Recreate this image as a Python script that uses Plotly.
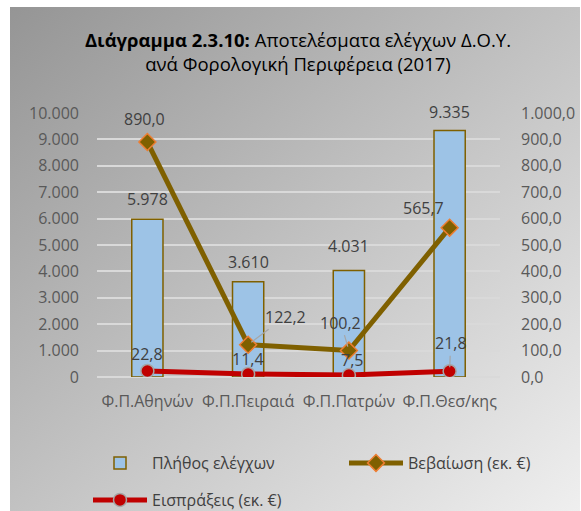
import base64
import plotly.graph_objects as go

categories = ["Φ.Π.Αθηνών", "Φ.Π.Πειραιά", "Φ.Π.Πατρών", "Φ.Π.Θεσ/κης"]
plithos = [5978, 3610, 4031, 9335]          # Πλήθος ελέγχων (left axis)
vevaiosi = [890.0, 122.2, 100.2, 565.7]     # Βεβαίωση (εκ. €) (right axis)
eispraxeis = [22.8, 11.4, 7.5, 21.8]        # Εισπράξεις (εκ. €) (right axis)

# label offsets (pixels) – layout only
bar_label_dy = [-20, -20, -25, -19]
vev_label_off = [(-3, -23), (37, -28), (-8, -28), (-26, -20)]
vev_leader = [False, True, True, False]
eis_label_off = [(0, -17), (0, -15), (3, -15), (1, -28)]
eis_leader = [False, False, False, True]

FONT = "Open Sans"
TICK = "#595959"
LAB = "#404040"

def fmt_int(v):
    return f"{v:,.0f}".replace(",", ".")

def fmt_dec(v):
    return f"{v:,.1f}".replace(",", "X").replace(".", ",").replace("X", ".")

fig = go.Figure()
fig.add_trace(go.Bar(
    x=categories, y=plithos, name="Πλήθος ελέγχων", width=0.31,
    marker=dict(color="#9dc3e6", line=dict(color="#7f6000", width=1.5)),
    yaxis="y", legend="legend", hoverinfo="skip"))
fig.add_trace(go.Scatter(
    x=categories, y=vevaiosi, name="Βεβαίωση (εκ. €)", mode="lines+markers",
    line=dict(color="#7f6000", width=5),
    marker=dict(symbol="diamond", size=13, color="#7f6000",
                line=dict(color="#ed7d31", width=1.5)),
    yaxis="y2", legend="legend3"))
fig.add_trace(go.Scatter(
    x=categories, y=eispraxeis, name="Εισπράξεις (εκ. €)", mode="lines+markers",
    line=dict(color="#c00000", width=5),
    marker=dict(symbol="circle", size=13, color="#c00000",
                line=dict(color="#a5a5a5", width=1.5)),
    yaxis="y2", legend="legend2"))

annotations = []
for c, v, dy in zip(categories, plithos, bar_label_dy):
    annotations.append(dict(x=c, y=v, xref="x", yref="y", text=fmt_int(v),
                            showarrow=False, yshift=-dy,
                            font=dict(family=FONT, size=16, color=LAB)))
for c, v, (dx, dy), ld in zip(categories, vevaiosi, vev_label_off, vev_leader):
    annotations.append(dict(x=c, y=v, xref="x", yref="y2", text=fmt_dec(v),
                            showarrow=True, ax=dx, ay=dy, arrowhead=0,
                            arrowwidth=1.2, standoff=4,
                            arrowcolor="#a6a6a6" if ld else "rgba(0,0,0,0)",
                            font=dict(family=FONT, size=16, color=LAB)))
for c, v, (dx, dy), ld in zip(categories, eispraxeis, eis_label_off, eis_leader):
    annotations.append(dict(x=c, y=v, xref="x", yref="y2", text=fmt_dec(v),
                            showarrow=True, ax=dx, ay=dy, arrowhead=0,
                            arrowwidth=1.2, standoff=4,
                            arrowcolor="#a6a6a6" if ld else "rgba(0,0,0,0)",
                            font=dict(family=FONT, size=16, color=LAB)))

W, H = 581, 511
L, R, T, B = 97, 81, 113, 134
pw, ph = W - L - R, H - T - B

svg = ('<svg xmlns="http://www.w3.org/2000/svg" width="570" height="504">'
       '<defs><linearGradient id="g" x1="0" y1="0" x2="1" y2="1">'
       '<stop offset="0" stop-color="#959595"/><stop offset="1" stop-color="#efefef"/>'
       '</linearGradient></defs><rect width="570" height="504" fill="url(#g)"/></svg>')
src = "data:image/svg+xml;base64," + base64.b64encode(svg.encode()).decode()

def px_x(p):
    return (p - L) / pw

def px_y(p):
    return (H - B - p) / ph

legend_style = dict(orientation="h", xanchor="left", yanchor="middle", itemwidth=54,
                    bgcolor="rgba(0,0,0,0)", font=dict(family=FONT, size=16, color=LAB))

fig.update_layout(
    width=W, height=H,
    margin=dict(l=L, r=R, t=T, b=B, pad=0, autoexpand=False),
    paper_bgcolor="white", plot_bgcolor="rgba(0,0,0,0)",
    separators=",.",
    font=dict(family=FONT, size=16, color=TICK),
    title=dict(text="<b>Διάγραμμα 2.3.10:</b> Αποτελέσματα ελέγχων Δ.Ο.Υ.<br>ανά Φορολογική Περιφέρεια (2017)",
               x=298 / W, xref="container", xanchor="center",
               y=1 - 47 / H, yref="container", yanchor="top",
               font=dict(family=FONT, size=18.5, color="black")),
    images=[dict(source=src, xref="paper", yref="paper", x=px_x(10), y=px_y(7),
                 sizex=570 / pw, sizey=504 / ph, xanchor="left", yanchor="top",
                 sizing="stretch", layer="below")],
    xaxis=dict(type="category", range=[-0.5, 3.5], showgrid=False, showline=False,
               ticks="", ticklabelstandoff=13, tickfont=dict(size=16, color=TICK)),
    yaxis=dict(range=[0, 10000], dtick=1000, tickformat=",d", showgrid=True,
               gridcolor="#d9d9d9", gridwidth=1.5, zeroline=True,
               zerolinecolor="#d9d9d9", zerolinewidth=1.5, showline=False,
               ticks="", ticklabelstandoff=17, tickfont=dict(size=16, color=TICK)),
    yaxis2=dict(range=[0, 1000], dtick=100, tickformat=",.1f", overlaying="y",
                side="right", showgrid=False, zeroline=False, showline=False,
                ticks="", ticklabelstandoff=20, tickfont=dict(size=16, color=TICK)),
    bargap=0.69,
    showlegend=True,
    legend=dict(x=px_x(88), y=px_y(463), **legend_style),
    legend3=dict(x=px_x(344), y=px_y(463), **legend_style),
    legend2=dict(x=px_x(88), y=px_y(500), **legend_style),
    annotations=annotations,
)

fig.write_html("out.html", post_script="document.body.style.margin='0';",
               config={"displayModeBar": False})
